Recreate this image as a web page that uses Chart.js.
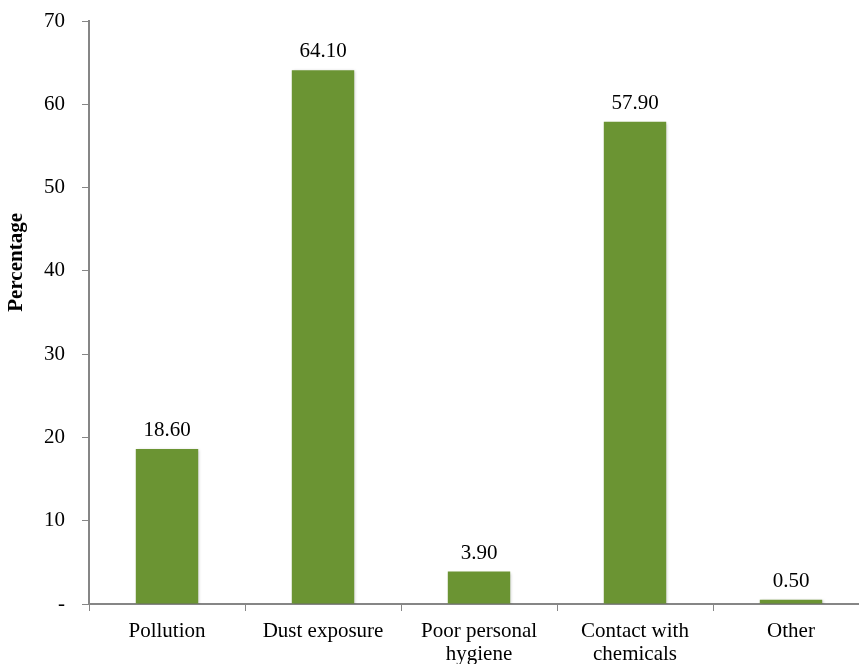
<!DOCTYPE html>
<html>
<head>
<meta charset="utf-8">
<script src="https://cdn.jsdelivr.net/npm/chart.js@4/dist/chart.umd.min.js"></script>
<style>
    html, body { margin: 0; padding: 0; background: #fff; overflow: hidden; }
    #wrap { width: 880px; height: 664px; }
</style>
</head>
<body>
<div id="wrap"><canvas id="chart"></canvas></div>
<script>
    const categories = ["Pollution", "Dust exposure", ["Poor personal", "hygiene"], ["Contact with", "chemicals"], "Other"];
    const percentages = [18.6, 64.1, 3.9, 57.9, 0.5];
    const yTicks = [0, 10, 20, 30, 40, 50, 60, 70];
    const yTitle = "Percentage";

    const fontFamily = "'Liberation Serif', 'Times New Roman', serif";
    const axisGray = "#868686";

    // draws the value above each bar, like the data labels in the original
    const valueLabels = {
        id: "valueLabels",
        afterDatasetsDraw(chart) {
            const ctx = chart.ctx;
            const meta = chart.getDatasetMeta(0);
            ctx.save();
            ctx.font = `21px ${fontFamily}`;
            ctx.fillStyle = "#000";
            ctx.textAlign = "center";
            ctx.textBaseline = "alphabetic";
            meta.data.forEach((bar, i) => {
                ctx.fillText(percentages[i].toFixed(2), bar.x, bar.y - 13);
            });
            ctx.restore();
        }
    };

    // the axis title sits above the middle of the axis in the original
    const axisTitle = {
        id: "axisTitle",
        afterDraw(chart) {
            const ctx = chart.ctx;
            const area = chart.chartArea;
            ctx.save();
            ctx.translate(17, area.top + (area.bottom - area.top) * 0.414);
            ctx.rotate(-Math.PI / 2);
            ctx.font = `bold 21px ${fontFamily}`;
            ctx.fillStyle = "#000";
            ctx.textAlign = "center";
            ctx.textBaseline = "middle";
            ctx.fillText(yTitle, 0, 0);
            ctx.restore();
        }
    };

    // soft shadow on the bars
    const barShadow = {
        id: "barShadow",
        beforeDatasetsDraw(chart) {
            const ctx = chart.ctx;
            ctx.save();
            ctx.shadowColor = "rgba(0, 0, 0, 0.25)";
            ctx.shadowBlur = 3;
            ctx.shadowOffsetX = 1;
            ctx.shadowOffsetY = 1;
        },
        afterDatasetsDraw(chart) {
            chart.ctx.restore();
        }
    };

    new Chart(document.getElementById("chart"), {
        type: "bar",
        data: {
            labels: categories,
            datasets: [{
                data: percentages,
                backgroundColor: "#6B9433",
                barPercentage: 0.4,
                categoryPercentage: 1
            }]
        },
        options: {
            responsive: true,
            maintainAspectRatio: false,
            animation: false,
            events: [],
            layout: {
                padding: { top: 21, right: 11, bottom: 0, left: 0 }
            },
            plugins: {
                legend: { display: false },
                tooltip: { enabled: false }
            },
            scales: {
                x: {
                    grid: {
                        offset: true,
                        drawOnChartArea: false,
                        drawTicks: true,
                        tickLength: 7,
                        tickColor: axisGray
                    },
                    border: { color: axisGray, width: 2 },
                    ticks: {
                        color: "#000",
                        padding: 9,
                        maxRotation: 0,
                        autoSkip: false,
                        font: { family: fontFamily, size: 21, lineHeight: 1.08 }
                    },
                    afterFit(scale) {
                        scale.height = 60;
                    }
                },
                y: {
                    min: 0,
                    max: 70,
                    afterBuildTicks(scale) {
                        scale.ticks = yTicks.map(v => ({ value: v }));
                    },
                    grid: {
                        drawOnChartArea: false,
                        drawTicks: true,
                        tickLength: 7,
                        tickColor: axisGray
                    },
                    border: { color: axisGray, width: 2 },
                    ticks: {
                        color: "#000",
                        padding: 17,
                        font: { family: fontFamily, size: 21 },
                        callback: (v) => v === 0 ? "-" : v
                    },
                    afterFit(scale) {
                        scale.width = 89;
                        scale.paddingTop = 0;
                        scale.paddingBottom = 0;
                    }
                }
            }
        },
        plugins: [barShadow, valueLabels, axisTitle]
    });
</script>
</body>
</html>
